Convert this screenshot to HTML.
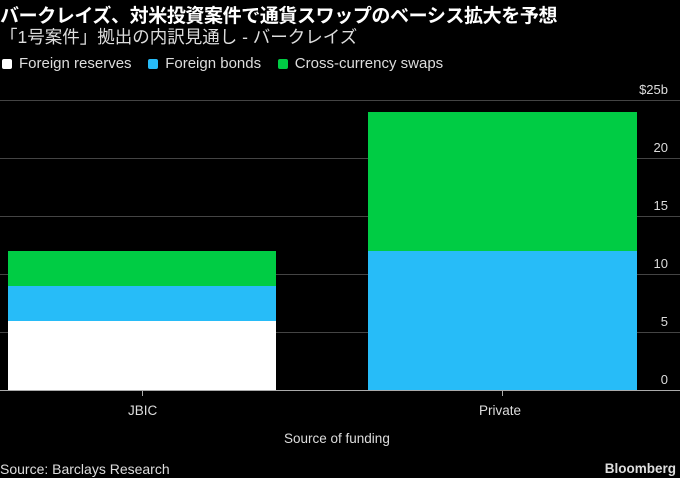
<!DOCTYPE html>
<html><head><meta charset="utf-8"><style>
body{margin:0;width:680px;height:478px;background:#000;overflow:hidden;font-family:"Liberation Sans","Noto Sans CJK JP",sans-serif;color:#fff;position:relative}
.a{position:absolute;white-space:nowrap}
.g{position:absolute;left:0;width:680px;height:1px;background:#444}
.t{position:absolute;right:12px;font-size:13px;color:#ddd}
.sw{display:inline-block;width:10px;height:10px;border-radius:2px;margin-right:7px;vertical-align:-1px}
</style></head><body>
<div class="a" style="left:0;top:1px;font-size:19px;font-weight:bold;letter-spacing:-0.4px">バークレイズ、対米投資案件で通貨スワップのベーシス拡大を予想</div>
<div class="a" style="left:0;top:24px;font-size:17.5px;color:#ddd">「1号案件」拠出の内訳見通し - バークレイズ</div>
<div class="a" style="left:2px;top:55px;font-size:15px;color:#ddd"><span class="sw" style="background:#fff"></span>Foreign reserves&nbsp;&nbsp;&nbsp;&nbsp;<span class="sw" style="background:#27bcf8"></span>Foreign bonds&nbsp;&nbsp;&nbsp;&nbsp;<span class="sw" style="background:#00cc44"></span>Cross-currency swaps</div>
<div class="g" style="top:100px"></div><div class="g" style="top:158px"></div><div class="g" style="top:216px"></div><div class="g" style="top:274px"></div><div class="g" style="top:332px"></div>
<div class="t" style="top:82px">$25b</div><div class="t" style="top:140px">20</div><div class="t" style="top:198px">15</div><div class="t" style="top:256px">10</div><div class="t" style="top:314px">5</div><div class="t" style="top:372px">0</div>
<div class="a" style="left:8px;top:251px;width:268px;height:35px;background:#00cc44"></div>
<div class="a" style="left:8px;top:286px;width:268px;height:35px;background:#27bcf8"></div>
<div class="a" style="left:8px;top:321px;width:268px;height:69px;background:#fff"></div>
<div class="a" style="left:368px;top:112px;width:269px;height:139px;background:#00cc44"></div>
<div class="a" style="left:368px;top:251px;width:269px;height:139px;background:#27bcf8"></div>
<div class="a" style="left:0;top:390px;width:680px;height:1px;background:#aaa"></div>
<div class="a" style="left:142px;top:390px;width:1px;height:6px;background:#aaa"></div>
<div class="a" style="left:502px;top:390px;width:1px;height:6px;background:#aaa"></div>
<div class="a" style="left:128px;top:403px;font-size:13.5px;color:#ddd">JBIC</div>
<div class="a" style="left:479px;top:403px;font-size:13.5px;color:#ddd">Private</div>
<div class="a" style="left:284px;top:431px;font-size:13.5px;color:#ddd">Source of funding</div>
<div class="a" style="left:0;top:461px;font-size:14px;color:#ddd">Source: Barclays Research</div>
<div class="a" style="right:4px;top:461px;font-size:13.5px;font-weight:bold;color:#ddd">Bloomberg</div>
</body></html>
